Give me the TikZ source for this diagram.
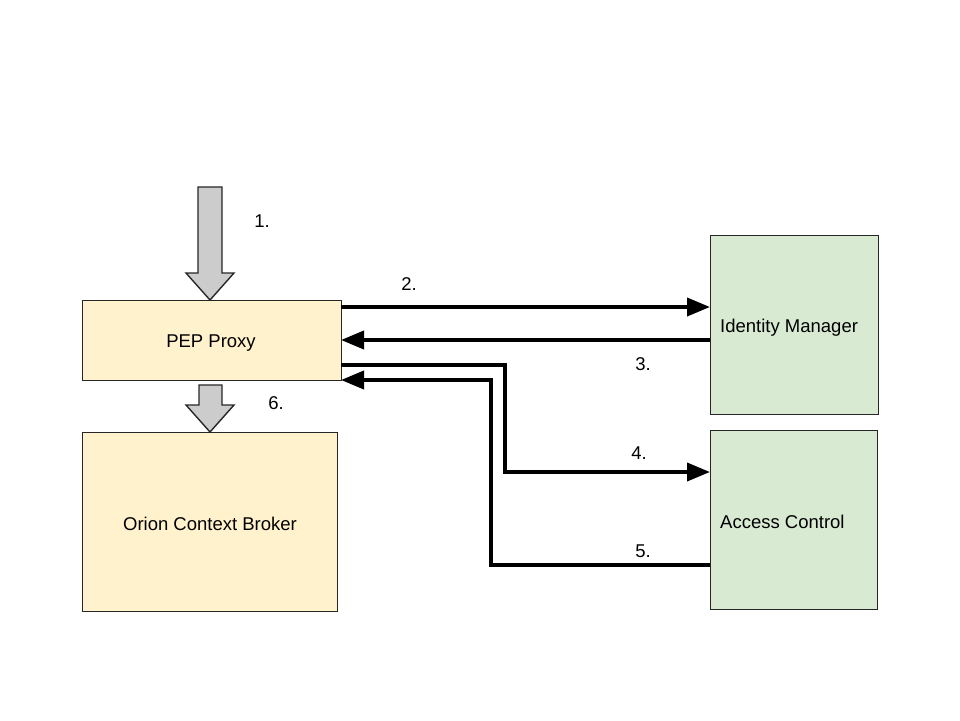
\documentclass[tikz,border=0pt]{standalone}
\usepackage{fontspec}
\setmainfont{Liberation Sans}
\usetikzlibrary{arrows.meta,shapes.arrows}
\definecolor{pepfill}{HTML}{FFF2CC}
\definecolor{idfill}{HTML}{D9EAD3}
\definecolor{arrfill}{HTML}{CCCCCC}
\begin{document}
\begin{tikzpicture}[x=1pt,y=-1pt,
  box/.style={draw=black!85,line width=1.4pt,inner sep=0pt,anchor=north west},
  lbl/.style={font=\fontsize{18.5}{21}\selectfont,inner sep=0pt},
  conn/.style={line width=3.8pt,-{Triangle[length=23pt,width=18pt]}},
  bigarrow/.style={draw=black!85,line width=1.4pt,fill=arrfill}]
\useasboundingbox (0,0) rectangle (960,720);
% boxes
\node[box,fill=pepfill,minimum width=259pt,minimum height=80pt] (pep) at (82,300) {};
\node[box,fill=pepfill,minimum width=255pt,minimum height=179pt] (ocb) at (82,432) {};
\node[box,fill=idfill,minimum width=168pt,minimum height=179pt] (idm) at (710,235) {};
\node[box,fill=idfill,minimum width=167pt,minimum height=179pt] (ac) at (710,430) {};
\node[lbl] at (211,343) {PEP Proxy};
\node[lbl] at (210,524) {Orion Context Broker};
\node[lbl,anchor=west] at (720,328) {Identity Manager};
\node[lbl,anchor=west] at (720,522) {Access Control};
% block arrows
\draw[bigarrow] (198,187) -- (222,187) -- (222,273) -- (234,273) -- (210,300) -- (186,273) -- (198,273) -- cycle;
\draw[bigarrow] (199,385) -- (222,385) -- (222,405) -- (234,405) -- (210,432) -- (186,405) -- (199,405) -- cycle;
% connectors
\coordinate (p2) at (341,307);
\coordinate (i2) at (710,307);
\coordinate (p3) at (341,340);
\coordinate (i3) at (710,340);
\coordinate (p4) at (341,365);
\coordinate (a4) at (710,472);
\coordinate (p5) at (341,380);
\coordinate (a5) at (710,565);
\draw[conn] (p2) -- (i2);
\draw[conn] (i3) -- (p3);
\draw[conn] (p4) -- (505,365) -- (505,472) -- (a4);
\draw[conn] (a5) -- (491,565) -- (491,380) -- (p5);
% labels
\node[lbl] at (262,221) {1.};
\node[lbl] at (409,284) {2.};
\node[lbl] at (643,364) {3.};
\node[lbl] at (639,453) {4.};
\node[lbl] at (643,551) {5.};
\node[lbl] at (276,403) {6.};
\end{tikzpicture}
\end{document}
